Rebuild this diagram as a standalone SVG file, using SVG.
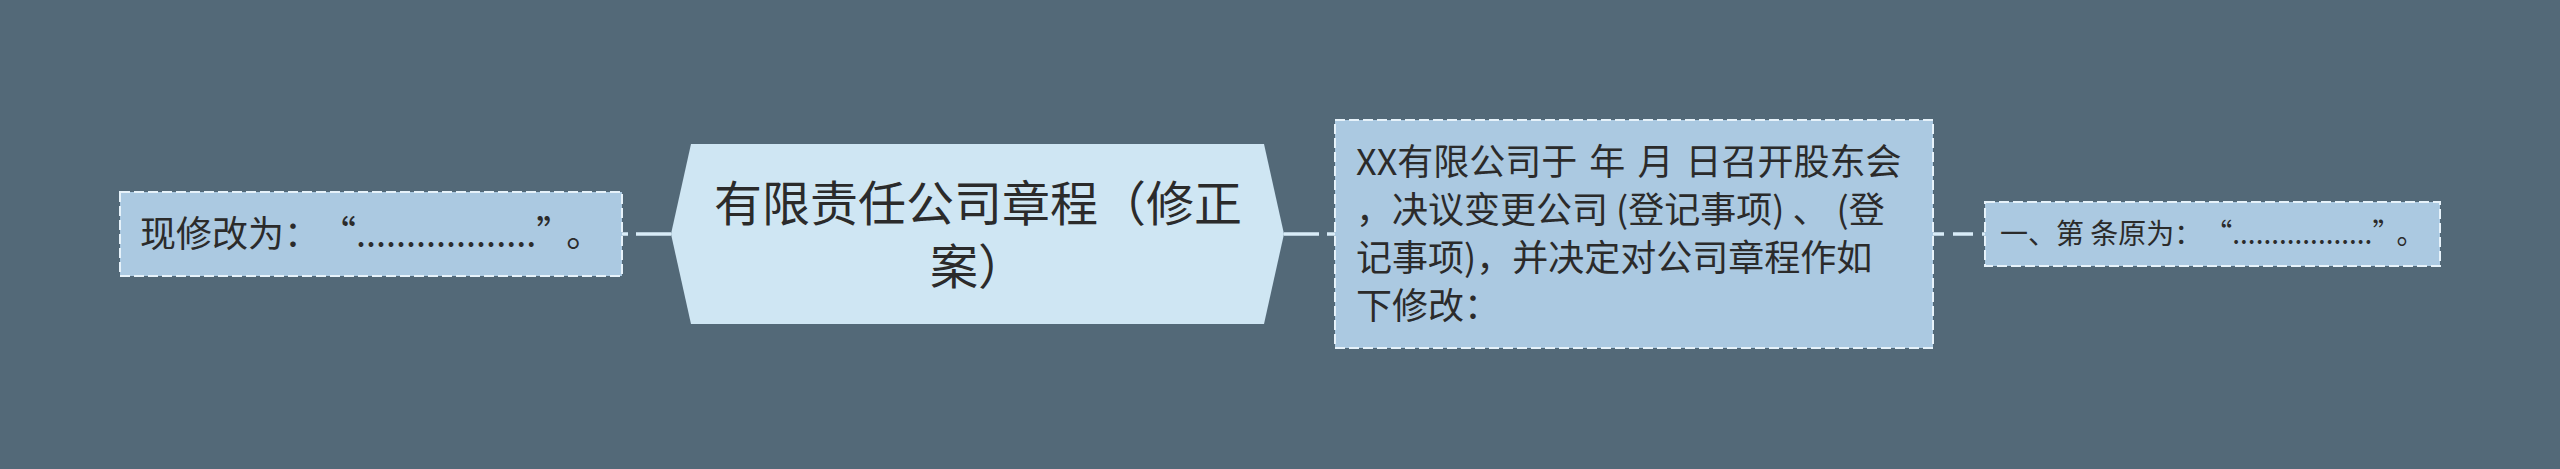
<svg xmlns="http://www.w3.org/2000/svg" width="2560" height="469" viewBox="0 0 2560 469">
<style>
.txt{font-family:"Noto Sans CJK SC","Noto Sans",sans-serif;fill:#2b2b2b;}
.side{fill:#abc9e1;stroke:#e6f2fa;stroke-width:2;stroke-dasharray:10 4;}
.link{fill:none;stroke:#d9ecf7;stroke-width:3.5;}
</style>
<rect x="0" y="0" width="2560" height="469" fill="#536978"/>
<g id="connectors">
<path class="link" d="M671,234 L622,234" stroke-dasharray="35 8"/>
<path class="link" d="M1284,234 L1335,234" stroke-dasharray="35 8"/>
<path class="link" d="M1933,234 L1985,234" stroke-dasharray="20 9" stroke-dashoffset="9"/>
</g>
<g id="center">
<polygon points="691,144 1264,144 1284,234 1264,324 691,324 671,234" fill="#cfe6f3"/>
<text class="txt" font-size="48" text-anchor="middle"><tspan x="978" y="221">有限责任公司章程（修正</tspan><tspan x="978" y="284">案）</tspan></text>
</g>
<g id="left">
<rect class="side" x="120" y="192" width="502" height="84"/>
<text class="txt" font-size="36" x="140" y="247">现修改为：<tspan dx="18">“..................”</tspan><tspan dx="12">。</tspan></text>
</g>
<g id="right">
<rect class="side" x="1335" y="120" width="598" height="228"/>
<text class="txt" font-size="36"><tspan x="1356" y="175" word-spacing="4">XX有限公司于 年 月 日召开股东会</tspan><tspan x="1356" y="223">，决议变更公司 (登记事项) 、 (登</tspan><tspan x="1356" y="271">记事项)，并决定对公司章程作如</tspan><tspan x="1356" y="319">下修改：</tspan></text>
</g>
<g id="farright">
<rect class="side" x="1985" y="202" width="455" height="64"/>
<text class="txt" font-size="28" x="2000" y="244">一、第 条原为：<tspan dx="16">“..................”</tspan><tspan dx="10">。</tspan></text>
</g>
</svg>
